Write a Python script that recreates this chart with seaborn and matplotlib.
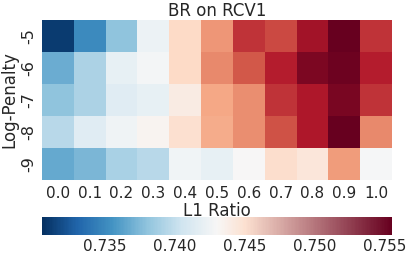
import numpy as np
import pandas as pd
import matplotlib
matplotlib.use("Agg")
import matplotlib.pyplot as plt
from matplotlib.colors import LinearSegmentedColormap, Normalize
from matplotlib.cm import ScalarMappable
import seaborn as sns

# Accuracy grid
l1_ratios = ["0.0", "0.1", "0.2", "0.3", "0.4", "0.5", "0.6", "0.7", "0.8", "0.9", "1.0"]
log_penalties = ["-5", "-6", "-7", "-8", "-9"]

row_m5 = [0.7310, 0.7350, 0.7380, 0.7423, 0.7455, 0.7485, 0.7520, 0.7513, 0.7535, 0.7555, 0.7520]
row_m6 = [0.7368, 0.7390, 0.7420, 0.7428, 0.7455, 0.7490, 0.7508, 0.7528, 0.7548, 0.7553, 0.7528]
row_m7 = [0.7380, 0.7390, 0.7415, 0.7420, 0.7440, 0.7478, 0.7488, 0.7520, 0.7531, 0.7549, 0.7520]
row_m8 = [0.7395, 0.7415, 0.7425, 0.7433, 0.7450, 0.7476, 0.7488, 0.7510, 0.7531, 0.7555, 0.7490]
row_m9 = [0.7366, 0.7373, 0.7389, 0.7395, 0.7426, 0.7420, 0.7430, 0.7452, 0.7445, 0.7483, 0.7429]

cbar_ticks = [0.735, 0.740, 0.745, 0.750, 0.755]
vmin, vmax = 0.7305, 0.7555

df = pd.DataFrame([row_m5, row_m6, row_m7, row_m8, row_m9],
                  index=log_penalties, columns=l1_ratios)

sns.set_style("white")
plt.rcParams['font.family'] = ['DejaVu Sans']

fig = plt.figure(figsize=(4.07, 2.56), dpi=100)
ax = fig.add_axes([42 / 407, 76 / 256, 350 / 407, 160 / 256])
cax = fig.add_axes([42 / 407, 21 / 256, 350 / 407, 18 / 256])

sns.heatmap(df, ax=ax, cmap="RdBu_r", vmin=vmin, vmax=vmax, cbar=False)

# the colour bar in the original has a coarser gradient on the red side
base = plt.get_cmap("RdBu_r")
stops = [0.0, 0.1, 0.2, 0.3, 0.4, 0.5, 0.58, 1.0]
bar_cmap = LinearSegmentedColormap.from_list("bar", [(s, base(s)) for s in stops])
cb = fig.colorbar(ScalarMappable(norm=Normalize(vmin, vmax), cmap=bar_cmap),
                  cax=cax, orientation="horizontal", ticks=cbar_ticks)
cb.outline.set_visible(False)

ax.set_title("BR on RCV1", fontsize=12, pad=3)
ax.set_xlabel("L1 Ratio", fontsize=12, labelpad=1)
ax.set_ylabel("Log-Penalty", fontsize=12, labelpad=2)
ax.tick_params(axis="x", labelsize=11, length=0, pad=4, rotation=0)
ax.tick_params(axis="y", labelsize=11.5, length=0, pad=4)
for lbl in ax.get_yticklabels():
    lbl.set_rotation(90)
    lbl.set_va("center")

cax.tick_params(labelsize=11, length=0, pad=3)
cax.set_xticklabels(["0.735", "0.740", "0.745", "0.750", "0.755"])

fig.savefig("out.png", dpi=100)
